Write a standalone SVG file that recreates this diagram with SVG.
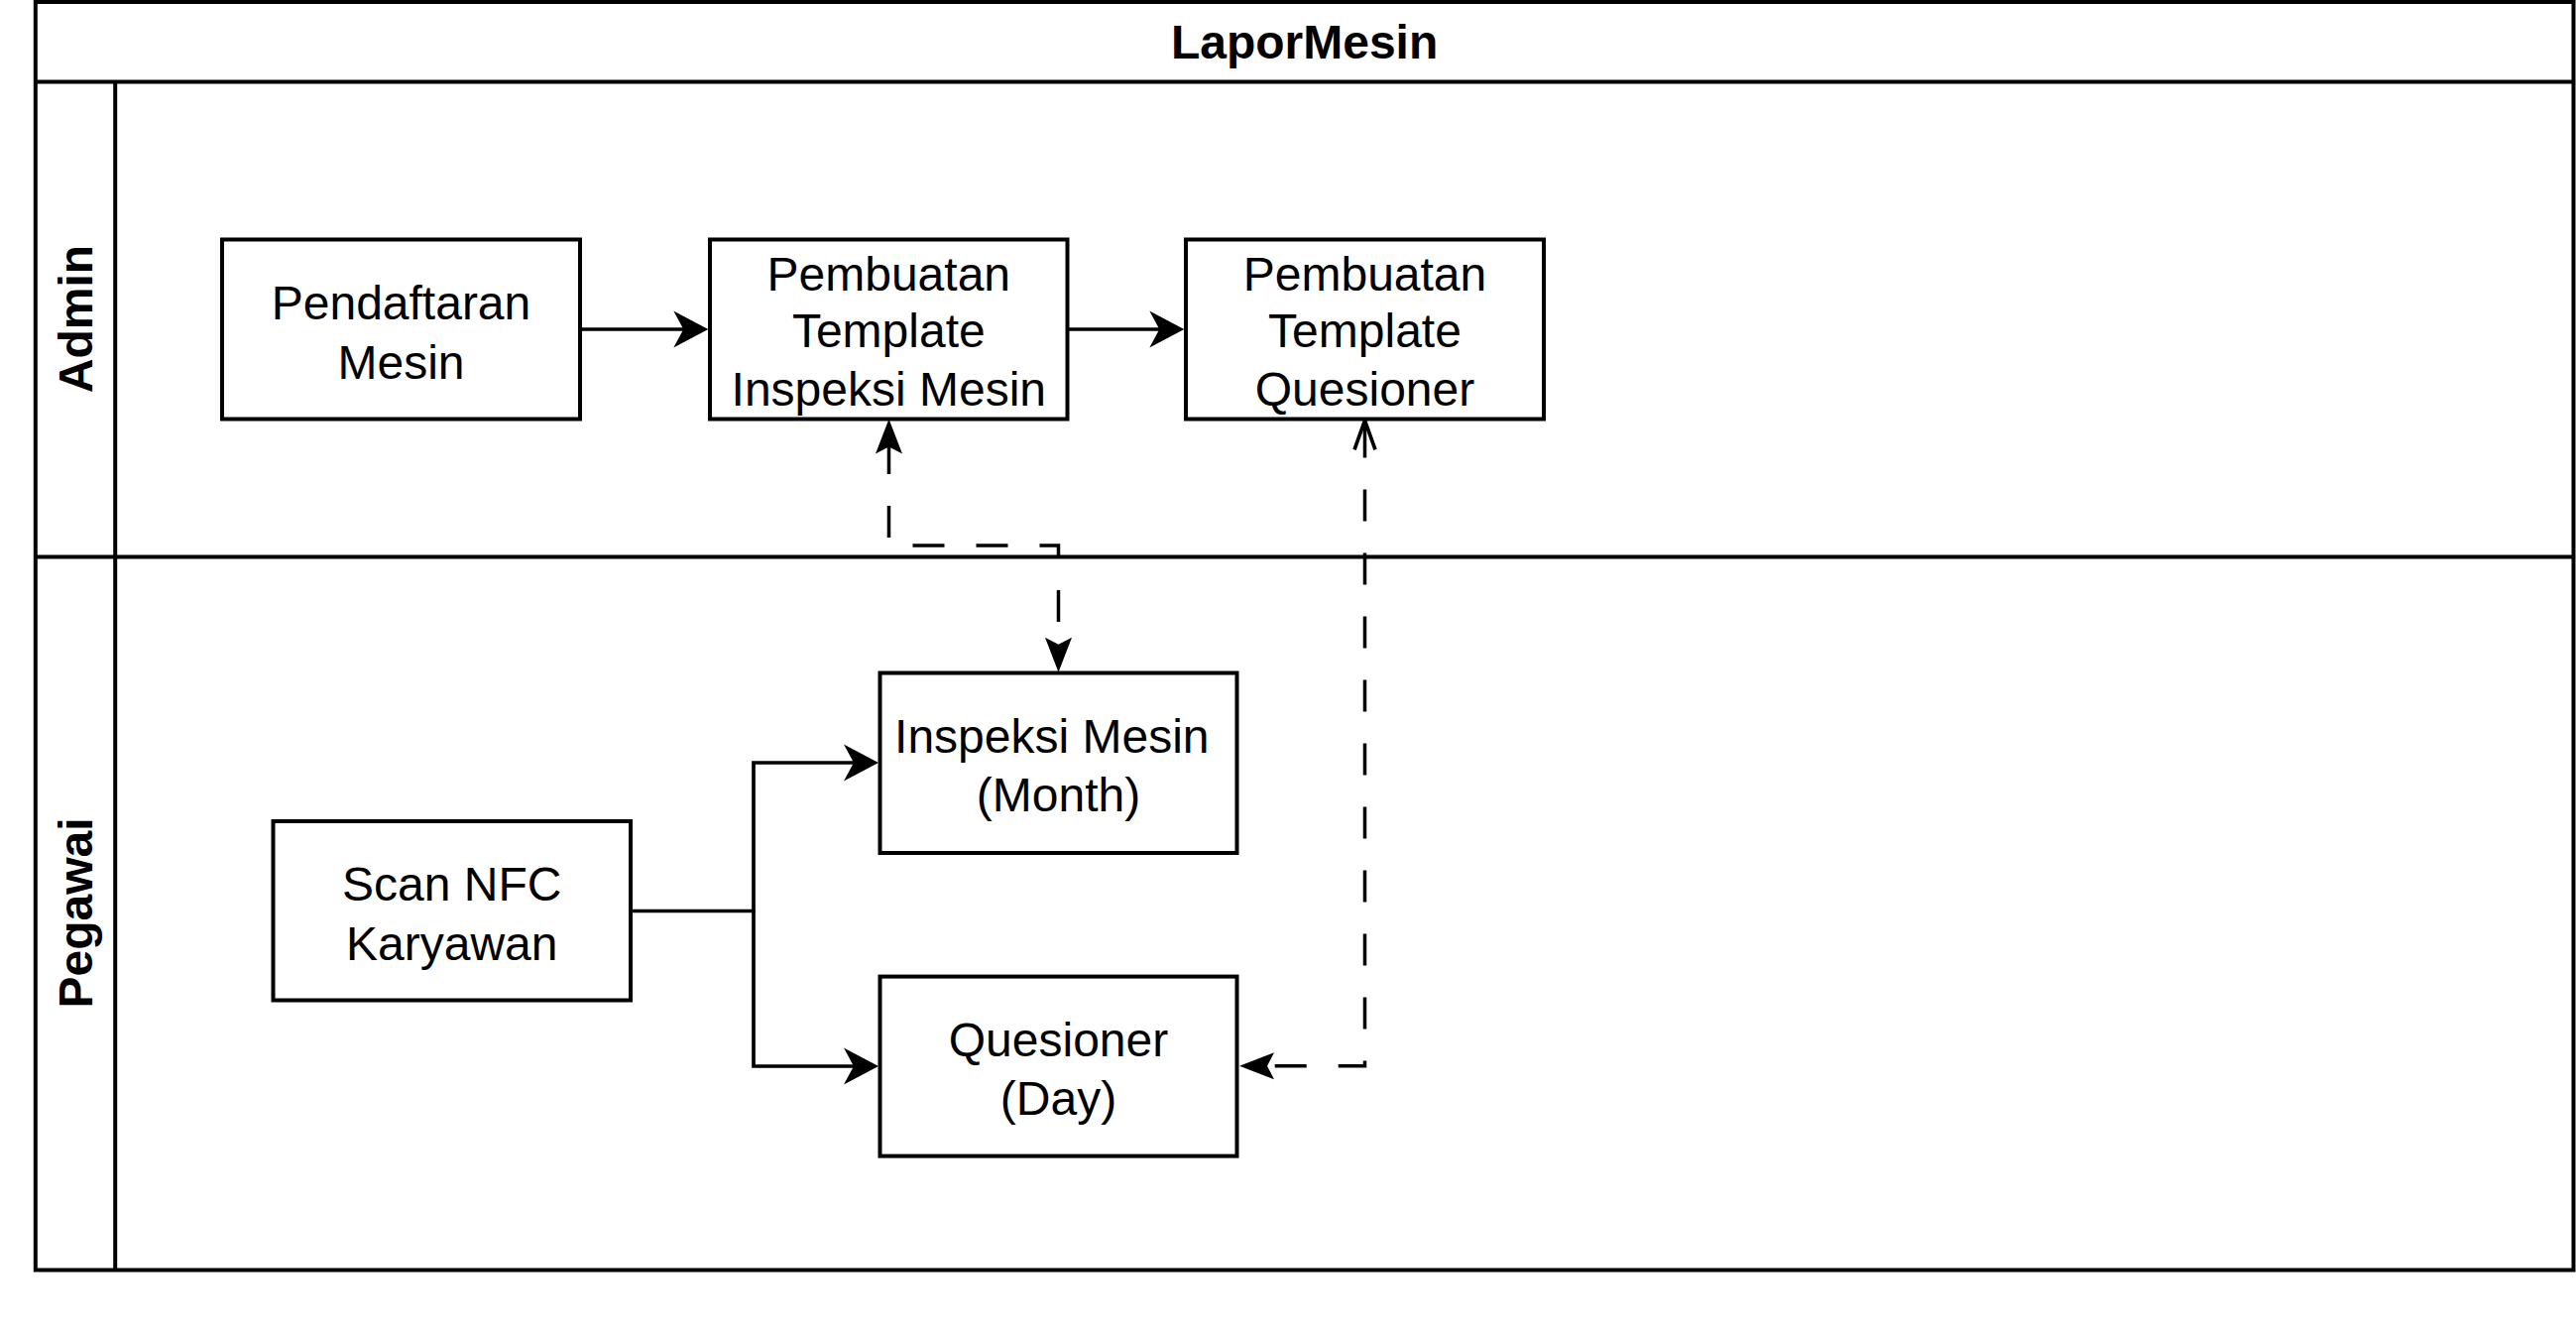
<svg xmlns="http://www.w3.org/2000/svg" xmlns:xlink="http://www.w3.org/1999/xlink" width="2598" height="1345" viewBox="0 0 2598 1345">
<style>
.lane{fill:none;stroke:#000;stroke-width:4}
.box{fill:#fff;stroke:#000;stroke-width:4}
.t{font-family:"Liberation Sans",Arial,Helvetica,sans-serif;font-size:48px;fill:#000;text-anchor:middle}
.b{font-weight:bold}
.edge{fill:none;stroke:#000;stroke-width:3.7}
.dash{fill:none;stroke:#000;stroke-width:3.5;stroke-dasharray:32 32}
.head{fill:#000;stroke:none}
.open{fill:none;stroke:#000;stroke-width:3.7;stroke-linejoin:miter}
</style>
<defs>
<path id="hSolid" class="head" d="M0,0 L-35,-18.5 L-25,0 L-35,18.5 Z"/>
<path id="hDash" class="head" d="M0,0 L-35,-13.5 L-28,0 L-35,13.5 Z"/>
</defs>
<rect width="2598" height="1345" fill="#fff"/>
<g id="pool">
<rect class="lane" x="35.8" y="2" width="2559.7" height="1278.5"/>
<line class="lane" x1="35.8" y1="82.5" x2="2595.5" y2="82.5"/>
<text class="t b" x="1315.6" y="59">LaporMesin</text>
</g>
<g id="lane-admin">
<line class="lane" x1="116.2" y1="82.5" x2="116.2" y2="561.6"/>
<text class="t b" transform="translate(76,321.5) rotate(-90)" x="0" y="17">Admin</text>
</g>
<g id="lane-pegawai">
<line class="lane" x1="35.8" y1="561.6" x2="2595.5" y2="561.6"/>
<line class="lane" x1="116.2" y1="561.6" x2="116.2" y2="1280.5"/>
<text class="t b" transform="translate(76,920.5) rotate(-90)" x="0" y="17">Pegawai</text>
</g>
<g id="connectors">
<path class="edge" d="M586,332 H692"/>
<use xlink:href="#hSolid" href="#hSolid" transform="translate(714.3,332)"/>
<path class="edge" d="M1078,332 H1172"/>
<use xlink:href="#hSolid" href="#hSolid" transform="translate(1194.3,332)"/>
<path class="edge" d="M637.5,918.5 H760 V769 H864"/>
<use xlink:href="#hSolid" href="#hSolid" transform="translate(886,769)"/>
<path class="edge" d="M760,918.5 V1075 H864"/>
<use xlink:href="#hSolid" href="#hSolid" transform="translate(886,1075)"/>
<path class="dash" d="M896.5,446 V550 H1067.5 V650"/>
<use xlink:href="#hDash" href="#hDash" transform="translate(896.5,422.5) rotate(-90)"/>
<use xlink:href="#hDash" href="#hDash" transform="translate(1067.5,677.7) rotate(90)"/>
<path class="dash" d="M1285.7,1074.8 H1376.5 V424"/>
<use xlink:href="#hDash" href="#hDash" transform="translate(1250,1074.8) rotate(180)"/>
<path class="open" d="M1366,453.3 L1376.5,424 L1387,453.3"/>
</g>
<g id="node-pendaftaran">
<rect class="box" x="224" y="241.5" width="361" height="181"/>
<text class="t" x="404.5" y="322">Pendaftaran</text>
<text class="t" x="404.5" y="381.5">Mesin</text>
</g>
<g id="node-template-inspeksi">
<rect class="box" x="716" y="241.5" width="360.5" height="181"/>
<text class="t" x="896.3" y="292.5">Pembuatan</text>
<text class="t" x="896.3" y="350">Template</text>
<text class="t" x="896.3" y="408.5">Inspeksi Mesin</text>
</g>
<g id="node-template-quesioner">
<rect class="box" x="1196" y="241.5" width="361" height="181"/>
<text class="t" x="1376.5" y="292.5">Pembuatan</text>
<text class="t" x="1376.5" y="350">Template</text>
<text class="t" x="1376.5" y="408.5">Quesioner</text>
</g>
<g id="node-scan-nfc">
<rect class="box" x="275.5" y="828" width="360.5" height="180.5"/>
<text class="t" x="455.8" y="908">Scan NFC</text>
<text class="t" x="455.8" y="967.5">Karyawan</text>
</g>
<g id="node-inspeksi-mesin">
<rect class="box" x="887.5" y="678.5" width="360" height="181.5"/>
<text class="t" x="1060.8" y="759">Inspeksi Mesin</text>
<text class="t" x="1067.5" y="818">(Month)</text>
</g>
<g id="node-quesioner">
<rect class="box" x="887.5" y="984.6" width="360" height="181"/>
<text class="t" x="1067.5" y="1065">Quesioner</text>
<text class="t" x="1067.5" y="1124">(Day)</text>
</g>
</svg>
